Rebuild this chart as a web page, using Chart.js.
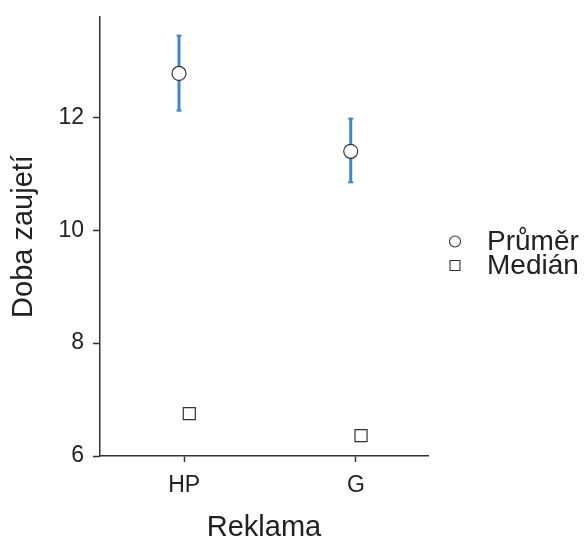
<!DOCTYPE html>
<html>
<head>
<meta charset="utf-8">
<script src="https://cdn.jsdelivr.net/npm/chart.js@4.4.0/dist/chart.umd.min.js"></script>
<style>
    html, body { margin: 0; padding: 0; background: #fff; }
    #wrap { width: 587px; height: 542px; }
</style>
</head>
<body>
<div id="wrap"><canvas id="chart"></canvas></div>
<script>
// Data
const categories = ['HP', 'G'];
const seriesNames = ['Průměr', 'Medián'];
const meanValues = [12.78, 11.40];
const meanLower = [12.12, 10.85];
const meanUpper = [13.45, 11.98];
const medianValues = [6.75, 6.36];
const yTicks = [6, 8, 10, 12];

const FONT = "'Liberation Sans', Arial, Helvetica, sans-serif";
const INK = '#333333';
const TEXT = '#222222';
const BAR_BLUE = '#3e88c7';
const DODGE = 0.03;

// category i sits at x = i + 1 on a linear scale
const xPos = (i, shift) => i + 1 + shift;

const meanPoints = meanValues.map((v, i) => ({ x: xPos(i, -DODGE), y: v }));
const medianPoints = medianValues.map((v, i) => ({ x: xPos(i, DODGE), y: v }));

// one small line dataset per error bar, with flat caps at both ends
const errorBarSets = categories.map((c, i) => ({
    type: 'line',
    label: 'ci-' + c,
    data: [{ x: xPos(i, -DODGE), y: meanLower[i] }, { x: xPos(i, -DODGE), y: meanUpper[i] }],
    borderColor: BAR_BLUE,
    borderWidth: 3,
    pointStyle: 'line',
    pointRadius: 2.5,
    pointBorderWidth: 2,
    pointBorderColor: BAR_BLUE,
    showLine: true,
    order: 3,
}));

// legend drawn beside the plot, markers via Chart.helpers.drawPoint
const sideLegend = {
    id: 'sideLegend',
    afterDraw(chart) {
        const { ctx, chartArea } = chart;
        const cx = chartArea.right + 27;
        const midY = (chartArea.top + chartArea.bottom) / 2 + 17;
        const rows = [
            { text: seriesNames[0], style: 'circle', radius: 5.5, y: midY - 12 },
            { text: seriesNames[1], style: 'rect', radius: 7, y: midY + 12 },
        ];
        ctx.save();
        rows.forEach(r => {
            ctx.strokeStyle = INK;
            ctx.fillStyle = '#ffffff';
            ctx.lineWidth = 1.1;
            Chart.helpers.drawPoint(ctx, { pointStyle: r.style, radius: r.radius, borderWidth: 1.1, rotation: 0 }, cx, r.y);
            ctx.fillStyle = TEXT;
            ctx.font = `28px ${FONT}`;
            ctx.textAlign = 'left';
            ctx.textBaseline = 'middle';
            ctx.fillText(r.text, cx + 32, r.y + 1);
        });
        ctx.restore();
    }
};

new Chart(document.getElementById('chart'), {
    type: 'scatter',
    data: {
        datasets: [
            {
                label: seriesNames[0],
                data: meanPoints,
                pointStyle: 'circle',
                pointRadius: 7,
                pointBorderWidth: 1.2,
                pointBorderColor: INK,
                pointBackgroundColor: '#ffffff',
                order: 1,
            },
            {
                label: seriesNames[1],
                data: medianPoints,
                pointStyle: 'rect',
                pointRadius: 8.5,
                pointBorderWidth: 1.2,
                pointBorderColor: INK,
                pointBackgroundColor: '#ffffff',
                order: 2,
            },
            ...errorBarSets,
        ]
    },
    options: {
        responsive: true,
        maintainAspectRatio: false,
        animation: false,
        devicePixelRatio: 1,
        layout: { padding: { top: 17, right: 159, left: 0, bottom: 0 } },
        plugins: {
            legend: { display: false },
            tooltip: { enabled: false },
        },
        scales: {
            x: {
                type: 'linear',
                min: 0.51,
                max: 2.42,
                afterBuildTicks: (scale) => { scale.ticks = categories.map((c, i) => ({ value: i + 1 })); },
                afterFit: (scale) => { scale.height = 86; scale.paddingLeft = 0; scale.paddingRight = 0; },
                ticks: {
                    callback: (v) => categories[Math.round(v) - 1] || '',
                    color: TEXT,
                    font: { family: FONT, size: 23 },
                    padding: 10,
                    maxRotation: 0,
                },
                grid: { display: true, drawOnChartArea: false, drawTicks: true, tickLength: 6, tickColor: INK, tickWidth: 1.5 },
                border: { display: true, color: INK, width: 1.5 },
                title: {
                    display: true,
                    text: 'Reklama',
                    color: TEXT,
                    font: { family: FONT, size: 29, lineHeight: 1 },
                    padding: 0,
                },
            },
            y: {
                type: 'linear',
                min: 6,
                max: 13.78,
                afterBuildTicks: (scale) => { scale.ticks = yTicks.map(v => ({ value: v })); },
                afterFit: (scale) => { scale.width = 100; scale.paddingTop = 0; scale.paddingBottom = 0; },
                ticks: {
                    color: TEXT,
                    font: { family: FONT, size: 23 },
                    padding: 9,
                },
                grid: { display: true, drawOnChartArea: false, drawTicks: true, tickLength: 7, tickColor: INK, tickWidth: 1.5 },
                border: { display: true, color: INK, width: 1.5 },
                title: {
                    display: true,
                    text: 'Doba zaujetí',
                    color: TEXT,
                    font: { family: FONT, size: 29, lineHeight: 1.2 },
                    padding: { top: 7, bottom: 0 },
                },
            },
        },
    },
    plugins: [sideLegend],
});
</script>
</body>
</html>
